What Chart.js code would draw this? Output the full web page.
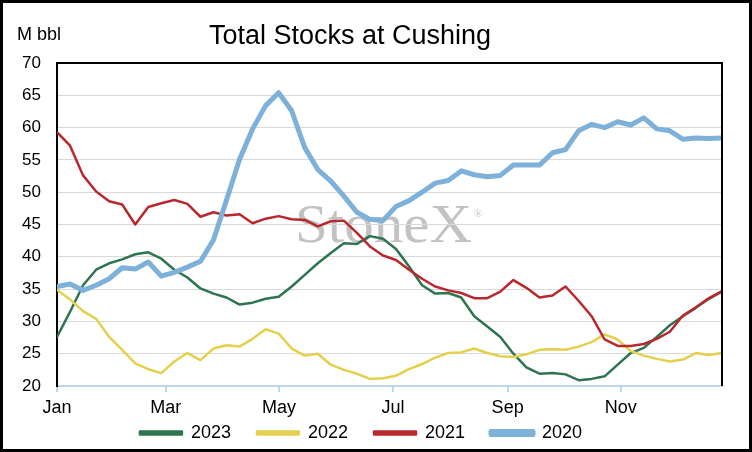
<!DOCTYPE html>
<html>
<head>
<meta charset="utf-8">
<script src="https://cdn.jsdelivr.net/npm/chart.js@4.4.1/dist/chart.umd.min.js"></script>
<style>
  html, body { margin: 0; padding: 0; background: #fff; }
  #wrap { width: 752px; height: 452px; }
</style>
</head>
<body>
<div id="wrap"><canvas id="cushingChart" width="752" height="452"></canvas></div>
<script>
// week of year
var weeks = [1,2,3,4,5,6,7,8,9,10,11,12,13,14,15,16,17,18,19,20,21,22,23,24,25,26,
             27,28,29,30,31,32,33,34,35,36,37,38,39,40,41,42,43,44,45,46,47,48,49,50,51,52];

// month tick positions (in weeks) and labels
var monthTicks = [1, 9.34, 18.02, 26.77, 35.56, 44.23];
var monthLabels = ["Jan", "Mar", "May", "Jul", "Sep", "Nov"];

var yTicks = [20, 25, 30, 35, 40, 45, 50, 55, 60, 65, 70];

// M bbl
var stocks2023 = [27.6, 31.5, 35.6, 38.0, 39.0, 39.6, 40.4, 40.7, 39.7, 38.0, 36.8, 35.1, 34.3,
                  33.7, 32.6, 32.9, 33.5, 33.8, 35.4, 37.2, 39.0, 40.6, 42.1, 42.0, 43.2, 42.8,
                  41.2, 38.5, 35.6, 34.3, 34.4, 33.7, 30.8, 29.2, 27.6, 25.0, 22.9, 21.9, 22.0,
                  21.8, 20.9, 21.1, 21.5, 23.3, 25.1, 25.9, 27.6, 29.4, 30.8, 32.1, 33.5, 34.6];

var stocks2022 = [34.9, 33.4, 31.6, 30.4, 27.6, 25.6, 23.5, 22.6, 22.0, 23.8, 25.1, 24.0, 25.8,
                  26.3, 26.1, 27.3, 28.8, 28.1, 25.8, 24.7, 25.0, 23.3, 22.5, 21.9, 21.1, 21.2,
                  21.6, 22.6, 23.4, 24.4, 25.1, 25.2, 25.8, 25.1, 24.6, 24.5, 24.9, 25.6, 25.7,
                  25.6, 26.1, 26.8, 28.0, 27.2, 25.4, 24.7, 24.2, 23.8, 24.1, 25.1, 24.8, 25.1];

var stocks2021 = [59.3, 57.2, 52.6, 50.1, 48.6, 48.1, 45.0, 47.7, 48.3, 48.8, 48.2, 46.2, 46.9,
                  46.4, 46.6, 45.2, 45.9, 46.3, 45.8, 45.7, 44.7, 45.5, 45.6, 43.7, 41.6, 40.2,
                  39.5, 38.0, 36.6, 35.4, 34.8, 34.4, 33.6, 33.6, 34.6, 36.4, 35.2, 33.7, 34.0,
                  35.4, 33.2, 30.8, 27.2, 26.2, 26.2, 26.5, 27.3, 28.4, 30.9, 32.2, 33.6, 34.7];

var stocks2020 = [35.4, 35.8, 34.8, 35.6, 36.6, 38.3, 38.1, 39.2, 37.0, 37.6, 38.4, 39.3, 42.6,
                  48.8, 55.1, 59.8, 63.4, 65.4, 62.6, 56.9, 53.5, 51.7, 49.4, 46.9, 45.8, 45.6,
                  47.8, 48.7, 50.0, 51.4, 51.8, 53.3, 52.7, 52.4, 52.6, 54.2, 54.2, 54.2, 56.1,
                  56.6, 59.5, 60.5, 60.0, 60.9, 60.4, 61.5, 59.8, 59.5, 58.2, 58.4, 58.3, 58.4];

var FONT = "'Liberation Sans', Arial, sans-serif";

// title, unit label, watermark and frame
var decorPlugin = {
    id: "decor",
    beforeDraw: function (chart) {
        var c = chart.ctx;
        c.save();
        // watermark
        c.fillStyle = "#c2c2c2";
        c.font = "54px 'Liberation Serif', 'DejaVu Serif', serif";
        c.textBaseline = "alphabetic";
        c.textAlign = "left";
        var w = c.measureText("StoneX").width;
        c.translate(295, 242);
        c.scale(177 / w, 1);
        c.fillText("StoneX", 0, 0);
        c.restore();
        c.save();
        c.fillStyle = "#c2c2c2";
        c.font = "11px 'Liberation Serif', serif";
        c.fillText("\u00AE", 474, 214);
        c.restore();
    },
    afterDraw: function (chart) {
        var c = chart.ctx;
        var a = chart.chartArea;
        c.save();
        c.fillStyle = "#000";
        c.textBaseline = "alphabetic";
        c.font = "27px " + FONT;
        c.textAlign = "center";
        c.fillText("Total Stocks at Cushing", 350, 44);
        c.font = "18px " + FONT;
        c.textAlign = "left";
        c.fillText("M bbl", 17, 40);

        // top and right frame of the plot
        c.strokeStyle = "#000";
        c.lineWidth = 2;
        c.beginPath();
        c.moveTo(a.left, a.top);
        c.lineTo(a.right, a.top);
        c.lineTo(a.right, a.bottom);
        c.stroke();

        // outer border
        c.lineWidth = 3;
        c.strokeRect(1.5, 1.5, chart.width - 3, chart.height - 3);
        c.restore();
    }
};

var ctx = document.getElementById("cushingChart").getContext("2d");

new Chart(ctx, {
    type: "line",
    data: {
        labels: weeks,
        datasets: [
            {
                label: "2020",
                data: stocks2020,
                borderColor: "#7db1da",
                backgroundColor: "#7db1da",
                borderWidth: 5
            },
            {
                label: "2021",
                data: stocks2021,
                borderColor: "#b8282d",
                backgroundColor: "#b8282d",
                borderWidth: 2.5
            },
            {
                label: "2022",
                data: stocks2022,
                borderColor: "#e4d04c",
                backgroundColor: "#e4d04c",
                borderWidth: 2.5
            },
            {
                label: "2023",
                data: stocks2023,
                borderColor: "#2e7450",
                backgroundColor: "#2e7450",
                borderWidth: 2.5
            }
        ]
    },
    options: {
        responsive: false,
        animation: false,
        devicePixelRatio: 1,
        layout: { padding: { top: 63, right: 30, left: 0, bottom: 0 } },
        elements: {
            point: { radius: 0 },
            line: { tension: 0, borderCapStyle: "round", borderJoinStyle: "round" }
        },
        plugins: {
            title: { display: false },
            tooltip: { enabled: false },
            legend: {
                position: "bottom",
                reverse: true,
                labels: {
                    boxWidth: 42,
                    boxHeight: 3,
                    padding: 26,
                    color: "#000",
                    font: { family: FONT, size: 18 }
                }
            }
        },
        scales: {
            x: {
                type: "linear",
                min: 1,
                max: 52,
                afterBuildTicks: function (scale) {
                    scale.ticks = monthTicks.map(function (v) { return { value: v }; });
                },
                afterFit: function (scale) { scale.height = 12; },
                ticks: {
                    autoSkip: false,
                    maxRotation: 0,
                    // mirror keeps the labels from being clipped to the short axis box;
                    // the negative padding pushes them back below the axis
                    mirror: true,
                    padding: -33,
                    color: "#000",
                    font: { family: FONT, size: 18 },
                    callback: function (value, index) { return monthLabels[index]; }
                },
                grid: {
                    drawOnChartArea: false,
                    drawTicks: true,
                    tickLength: 6,
                    color: "#bdd7ee",
                    lineWidth: 2
                },
                border: { color: "#bdd7ee", width: 2 }
            },
            y: {
                min: 20,
                max: 70,
                afterBuildTicks: function (scale) {
                    scale.ticks = yTicks.map(function (v) { return { value: v }; });
                },
                afterFit: function (scale) { scale.width = 57; },
                ticks: {
                    padding: 16,
                    color: "#000",
                    font: { family: FONT, size: 17 }
                },
                grid: { color: "#d9d9d9", lineWidth: 1, drawTicks: false },
                border: { color: "#000", width: 2 }
            }
        }
    },
    plugins: [decorPlugin]
});
</script>
</body>
</html>
